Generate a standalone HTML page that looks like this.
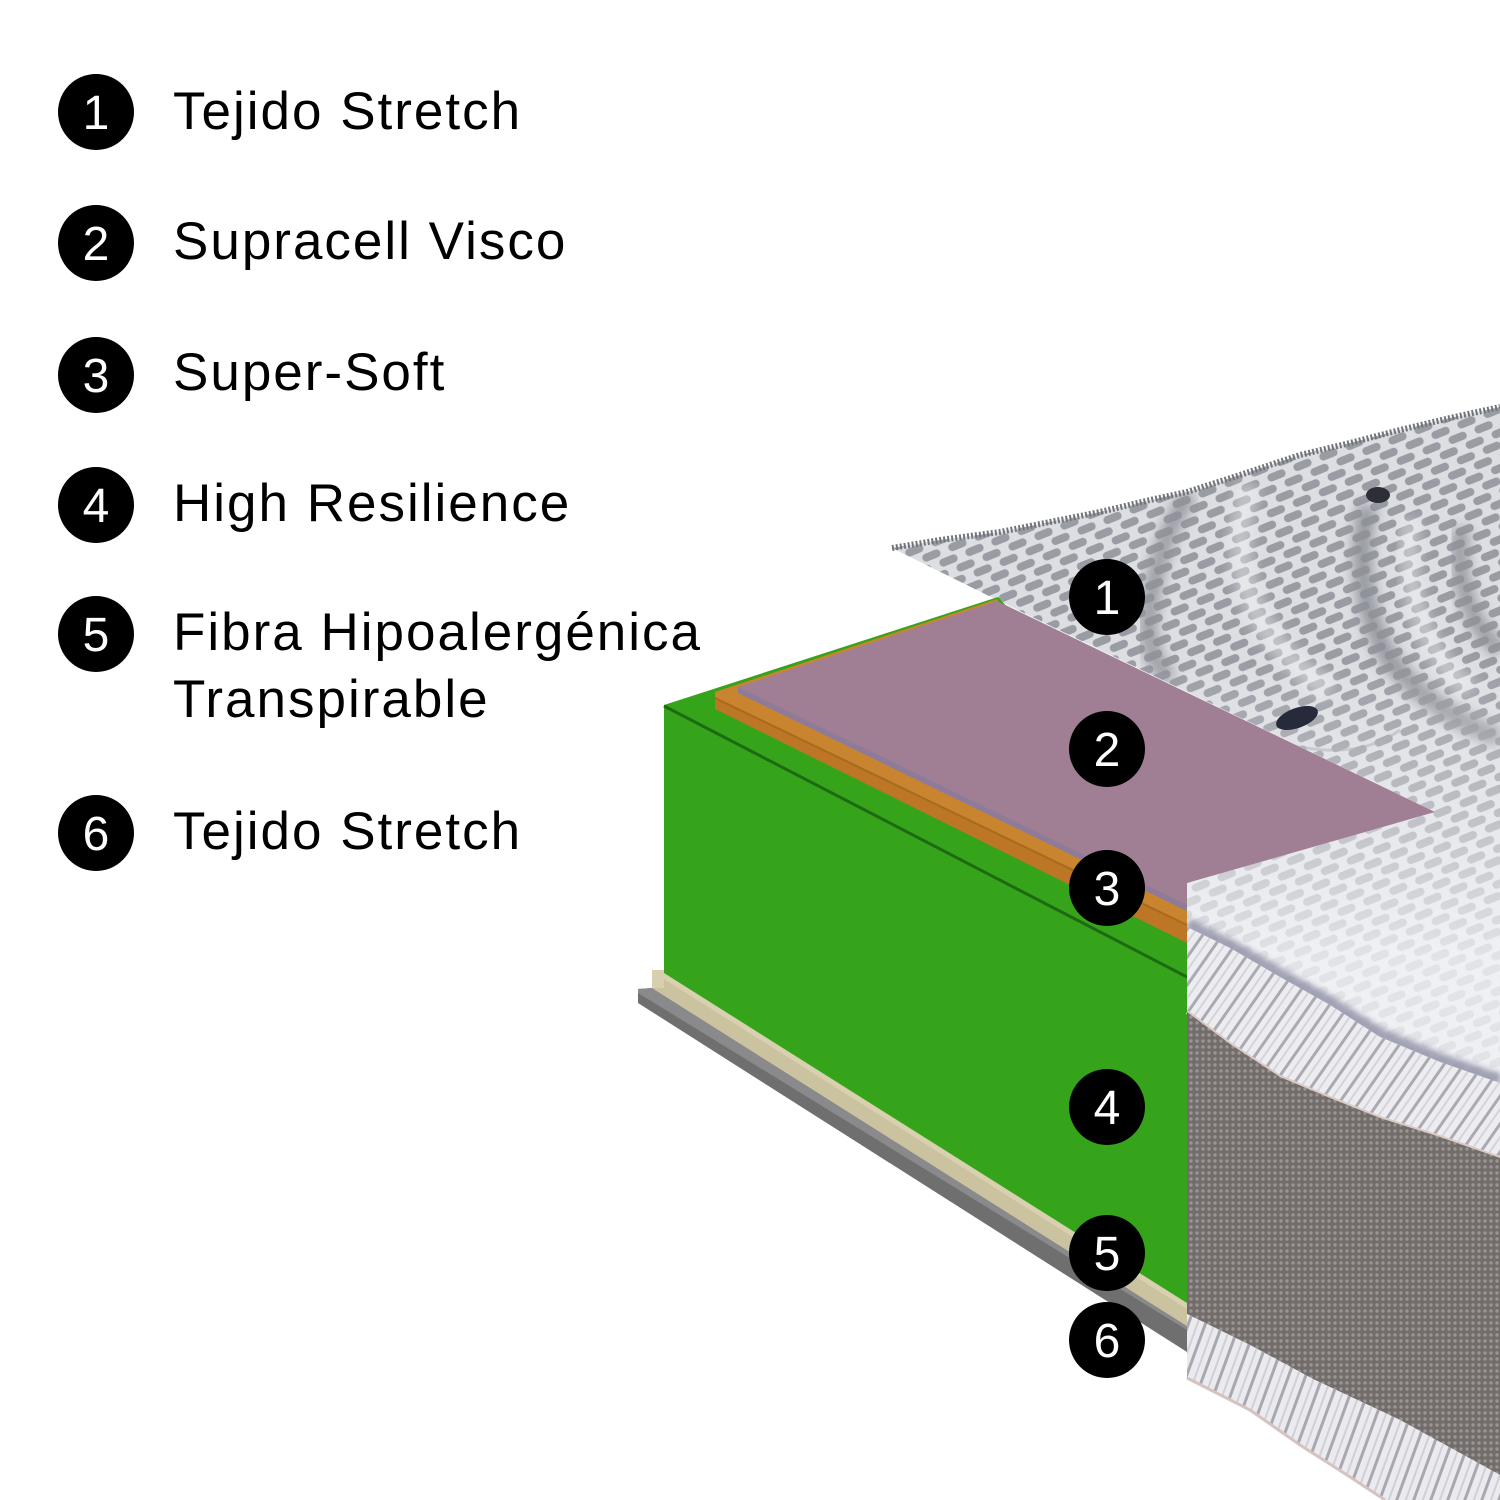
<!DOCTYPE html>
<html>
<head>
<meta charset="utf-8">
<style>
  html,body{margin:0;padding:0;background:#fff;}
  svg{display:block;}
  .lg{font-family:"Liberation Sans",Arial,sans-serif;font-size:53px;letter-spacing:2px;fill:#000;}
  .num{font-family:"Liberation Sans",Arial,sans-serif;font-size:48px;fill:#fff;text-anchor:middle;}
</style>
</head>
<body>
<svg width="1500" height="1500" viewBox="0 0 1500 1500" xmlns="http://www.w3.org/2000/svg">
  <defs>
    <pattern id="knit" width="28" height="22" patternUnits="userSpaceOnUse" patternTransform="rotate(-22)">
      <rect width="28" height="22" fill="#dcdee2"/>
      <rect x="2" y="2" width="19" height="8" rx="4" fill="#9a9ca4"/>
      <rect x="16" y="13" width="19" height="8" rx="4" fill="#9a9ca4"/>
      <rect x="-12" y="13" width="19" height="8" rx="4" fill="#9a9ca4"/>
    </pattern>
    <pattern id="rope" width="16" height="16" patternUnits="userSpaceOnUse" patternTransform="rotate(35)">
      <rect width="16" height="16" fill="#ededf1"/>
      <rect x="0" y="0" width="3" height="16" fill="#a9aab2"/>
      <rect x="8" y="0" width="2" height="16" fill="#d3d4da"/>
    </pattern>
    <pattern id="rope2" width="16" height="16" patternUnits="userSpaceOnUse" patternTransform="rotate(20)">
      <rect width="16" height="16" fill="#ebebef"/>
      <rect x="0" y="0" width="3" height="16" fill="#a7a8b0"/>
      <rect x="9" y="0" width="2" height="16" fill="#cfd0d6"/>
    </pattern>
    <pattern id="weave" width="6" height="6" patternUnits="userSpaceOnUse">
      <rect width="6" height="6" fill="#726d6b"/>
      <circle cx="3" cy="3" r="1.7" fill="#9a9592"/>
    </pattern>
    <clipPath id="topclip">
      <path d="M892,548 L940,540 L1000,532 L1050,522 L1100,512 L1150,500 L1187,492 L1240,475 L1300,455 L1350,443 L1400,430 L1450,418 L1500,407 L1500,1083 L1440,1062 L1380,1037 L1330,1005 L1280,977 L1230,948 L1187,927 L1187,883 L1435,812 L997,600 Z"/>
    </clipPath>
    <linearGradient id="whiten" x1="0" y1="660" x2="0" y2="960" gradientUnits="userSpaceOnUse">
      <stop offset="0" stop-color="#f4f5f8" stop-opacity="0"/>
      <stop offset="1" stop-color="#f4f5f8" stop-opacity="0.8"/>
    </linearGradient>
    <filter id="blur" x="-20%" y="-20%" width="140%" height="140%"><feGaussianBlur stdDeviation="6"/></filter>
    <filter id="blur2" x="-20%" y="-20%" width="140%" height="140%"><feGaussianBlur stdDeviation="3"/></filter>
  </defs>

  <rect width="1500" height="1500" fill="#ffffff"/>

  <!-- Legend -->
  <g>
    <circle cx="96" cy="112" r="38" fill="#000"/>
    <text class="num" x="96" y="129">1</text>
    <text class="lg" x="173" y="129">Tejido Stretch</text>

    <circle cx="96" cy="243" r="38" fill="#000"/>
    <text class="num" x="96" y="260">2</text>
    <text class="lg" x="173" y="259">Supracell Visco</text>

    <circle cx="96" cy="375" r="38" fill="#000"/>
    <text class="num" x="96" y="392">3</text>
    <text class="lg" x="173" y="390">Super-Soft</text>

    <circle cx="96" cy="505" r="38" fill="#000"/>
    <text class="num" x="96" y="522">4</text>
    <text class="lg" x="173" y="521">High Resilience</text>

    <circle cx="96" cy="634" r="38" fill="#000"/>
    <text class="num" x="96" y="651">5</text>
    <text class="lg" x="173" y="650">Fibra Hipoalergénica</text>
    <text class="lg" x="173" y="717">Transpirable</text>

    <circle cx="96" cy="833" r="38" fill="#000"/>
    <text class="num" x="96" y="850">6</text>
    <text class="lg" x="173" y="849">Tejido Stretch</text>
  </g>

  <!-- Top quilted fabric surface -->
  <path d="M892,548 L940,540 L1000,532 L1050,522 L1100,512 L1150,500 L1187,492 L1240,475 L1300,455 L1350,443 L1400,430 L1450,418 L1500,407 L1500,1083 L1440,1062 L1380,1037 L1330,1005 L1280,977 L1230,948 L1187,927 L1187,883 L1435,812 L997,600 Z" fill="url(#knit)"/>
  <g clip-path="url(#topclip)">
    <!-- ridge shading -->
    <path d="M1190,494 C1165,530 1155,570 1150,605 C1146,635 1150,660 1170,680" stroke="#8e9098" stroke-width="18" fill="none" filter="url(#blur)" opacity="0.8"/>
    <path d="M1368,505 C1355,560 1365,620 1390,660 C1420,700 1465,725 1500,738" stroke="#8e9098" stroke-width="20" fill="none" filter="url(#blur)" opacity="0.85"/>
    <path d="M1462,528 C1455,570 1465,620 1500,650" stroke="#8e9098" stroke-width="18" fill="none" filter="url(#blur)" opacity="0.8"/>
    <path d="M1250,485 C1225,560 1250,640 1330,690" stroke="#f2f3f6" stroke-width="22" fill="none" filter="url(#blur)" opacity="0.45"/>
    <path d="M1410,520 C1405,590 1420,650 1470,690" stroke="#f2f3f6" stroke-width="20" fill="none" filter="url(#blur)" opacity="0.45"/>
    <path d="M1230,725 C1300,755 1360,760 1400,730" stroke="#9a9ca4" stroke-width="3" fill="none" opacity="0.5"/>
    <rect x="880" y="400" width="620" height="700" fill="url(#whiten)"/>
    <!-- dark tufts -->
    <ellipse cx="1378" cy="495" rx="12" ry="8" fill="#2c2e38"/>
    <ellipse cx="1297" cy="718" rx="22" ry="10" fill="#262a3a" transform="rotate(-20 1297 718)"/>
    <!-- shadow over piping -->
    <polyline points="1187,925 1230,946 1280,975 1330,1003 1380,1035 1440,1060 1500,1081" stroke="#8e90a6" stroke-width="14" fill="none" filter="url(#blur2)" opacity="0.8"/>
  </g>
  <!-- stitched top border -->
  <polyline points="892,548 940,540 1000,532 1050,522 1100,512 1150,500 1187,492 1240,475 1300,455 1350,443 1400,430 1450,418 1500,407" stroke="#72747c" stroke-width="6" stroke-dasharray="2 2" fill="none"/>

  <!-- Gray bottom strip (6) -->
  <path d="M638,989 L652,988 L1187,1326 L1187,1352 L638,1003 Z" fill="#6f6f70"/>
  <path d="M638,989 L652,988 L1187,1326 L1187,1330 L638,993 Z" fill="#8a8a8c"/>
  <!-- Beige strip (5) -->
  <path d="M652,970 L664,970 L664,973 L1187,1303 L1187,1326 L652,988 Z" fill="#cbc3a0"/>
  <path d="M664,973 L1187,1303 L1187,1309 L664,979 Z" fill="#d8d0ae"/>
  <path d="M652,970 L664,970 L664,988 L652,988 Z" fill="#d7cfad"/>

  <!-- Green block (4) -->
  <path d="M664,705 L998,597 L1010,610 L1187,905 L1187,1303 L664,973 Z" fill="#36a41b"/>
  <line x1="664" y1="706" x2="1187" y2="977" stroke="#1e6a12" stroke-width="3"/>

  <!-- Orange layer (3) -->
  <path d="M715,692 L997,599 L1187,905 L1187,943 L715,709 Z" fill="#bc7625"/>
  <path d="M715,692 L997,599 L1187,905 L1187,925 L715,698 Z" fill="#c8842f"/>
  <line x1="715" y1="698" x2="1187" y2="925" stroke="#a86a1e" stroke-width="2"/>

  <!-- Pink layer (2) -->
  <path d="M738,687 L997,601 L1435,812 L1187,883 L1187,910 Z" fill="#a07f95"/>
  <path d="M738,687 L1187,905 L1187,911 L738,693 Z" fill="#8e7b9a"/>

  <!-- Front fabric: top piping -->
  <path d="M1187,927 L1230,948 L1280,977 L1330,1005 L1380,1037 L1440,1062 L1500,1083 L1500,1158 L1440,1137 L1380,1118 L1330,1098 L1280,1077 L1230,1044 L1187,1012 Z" fill="url(#rope)"/>
  <polyline points="1187,1012 1230,1044 1280,1077 1330,1098 1380,1118 1440,1137 1500,1158" stroke="#dccac4" stroke-width="4" fill="none"/>
  <!-- gray side panel -->
  <path d="M1187,1012 L1230,1044 L1280,1077 L1330,1098 L1380,1118 L1440,1137 L1500,1158 L1500,1475 L1400,1420 L1313,1379 L1250,1345 L1187,1314 Z" fill="url(#weave)"/>
  <!-- bottom piping -->
  <path d="M1187,1314 L1250,1345 L1313,1379 L1400,1420 L1500,1475 L1500,1500 L1385,1500 L1347,1475 L1300,1445 L1250,1410 L1187,1378 Z" fill="url(#rope2)"/>
  <polyline points="1187,1378 1250,1410 1300,1445 1347,1475 1385,1500" stroke="#d6c3c0" stroke-width="3" fill="none"/>

  <!-- Diagram number markers -->
  <circle cx="1107" cy="597" r="38" fill="#000"/>
  <text class="num" x="1107" y="614">1</text>
  <circle cx="1107" cy="749" r="38" fill="#000"/>
  <text class="num" x="1107" y="766">2</text>
  <circle cx="1107" cy="888" r="38" fill="#000"/>
  <text class="num" x="1107" y="905">3</text>
  <circle cx="1107" cy="1107" r="38" fill="#000"/>
  <text class="num" x="1107" y="1124">4</text>
  <circle cx="1107" cy="1253" r="38" fill="#000"/>
  <text class="num" x="1107" y="1270">5</text>
  <circle cx="1107" cy="1340" r="38" fill="#000"/>
  <text class="num" x="1107" y="1357">6</text>
</svg>
</body>
</html>
